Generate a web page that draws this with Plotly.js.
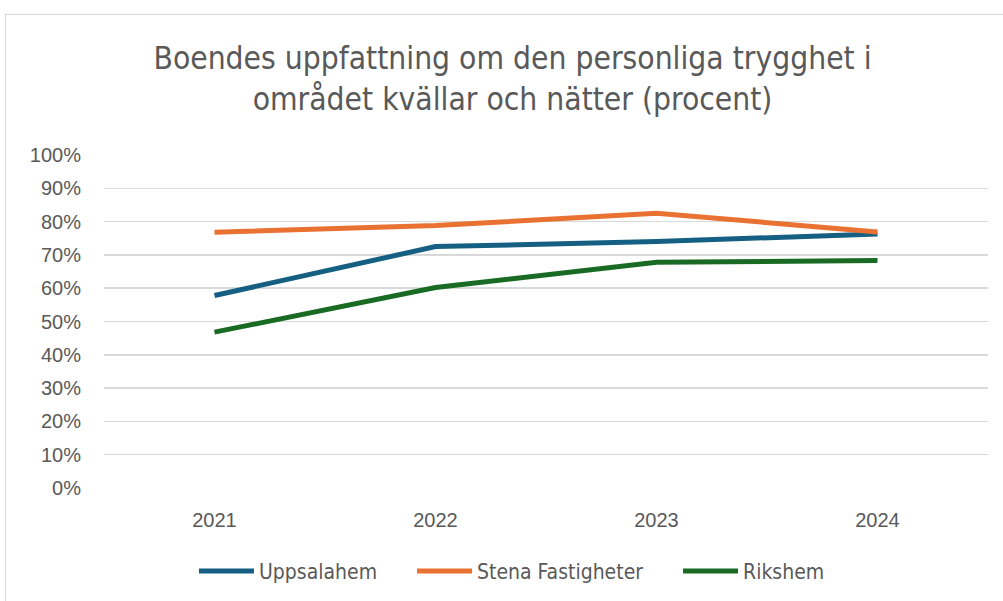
<!DOCTYPE html>
<html>
<head>
<meta charset="utf-8">
<script src="https://cdn.plot.ly/plotly-3.0.1.min.js"></script>
<style>
html,body{margin:0;padding:0;background:#fff;overflow:hidden;}
#wrap{position:relative;width:1003px;height:601px;}
#chart{position:absolute;left:0;top:0;width:1003px;height:601px;}
#border{position:absolute;left:5px;top:14px;width:1010px;height:600px;border:1.5px solid #d9d9d9;pointer-events:none;}
</style>
</head>
<body>
<div id="wrap"><div id="chart"></div><div id="border"></div></div>
<script>
const years = ['2021', '2022', '2023', '2024'];
const uppsalahem = [0.578, 0.725, 0.74, 0.763];
const stena = [0.768, 0.788, 0.825, 0.769];
const rikshem = [0.468, 0.602, 0.678, 0.683];
const seriesNames = ['Uppsalahem', 'Stena Fastigheter', 'Rikshem'];
const colors = ['#156082', '#E97132', '#196B24'];
const values = [uppsalahem, stena, rikshem];

const pad = '\u00a0\u00a0\u00a0\u00a0\u00a0';
const traces = values.map((v, i) => ({
  x: years, y: v, type: 'scatter', mode: 'lines',
  name: seriesNames[i] + (i < values.length - 1 ? pad : ''),
  line: {color: colors[i], width: 5, shape: 'linear'},
  hoverinfo: 'skip'
}));

const narrow = 'DejaVu Sans Condensed, sans-serif';
const layout = {
  width: 1003, height: 601,
  paper_bgcolor: 'rgba(0,0,0,0)', plot_bgcolor: '#fff',
  margin: {l: 104, r: 15, t: 155, b: 112.5, autoexpand: false},
  font: {family: narrow, color: '#595959'},
  title: {
    text: 'Boendes uppfattning om den personliga trygghet i<br>området kvällar och nätter (procent)',
    font: {family: narrow, size: 31.5, color: '#595959'},
    x: 0.511, xref: 'container', xanchor: 'center',
    y: 1 - 69/601, yref: 'container', yanchor: 'middle'
  },
  xaxis: {
    type: 'category', range: [-0.5, 3.5], showgrid: false, zeroline: false,
    showline: false, ticks: '', ticklabelstandoff: 18,
    tickfont: {family: 'Liberation Sans, Arial, sans-serif', size: 20, color: '#595959'},
    fixedrange: true
  },
  yaxis: {
    range: [0, 1], dtick: 0.1, tick0: 0, tickformat: '.0%',
    showgrid: true, gridcolor: '#d9d9d9', gridwidth: 1.5,
    zeroline: false, showline: false, ticks: '', ticklabelstandoff: 22,
    tickfont: {family: 'Liberation Sans, Arial, sans-serif', size: 20, color: '#595959'},
    fixedrange: true
  },
  legend: {
    orientation: 'h', x: 0.4615, xanchor: 'center', xref: 'paper',
    y: -0.25, yanchor: 'middle',
    font: {family: narrow, size: 21, color: '#595959'},
    itemwidth: 55, tracegroupgap: 0
  },
  showlegend: true,
  hovermode: false
};

Plotly.newPlot('chart', traces, layout, {staticPlot: true, displayModeBar: false});
</script>
</body>
</html>
